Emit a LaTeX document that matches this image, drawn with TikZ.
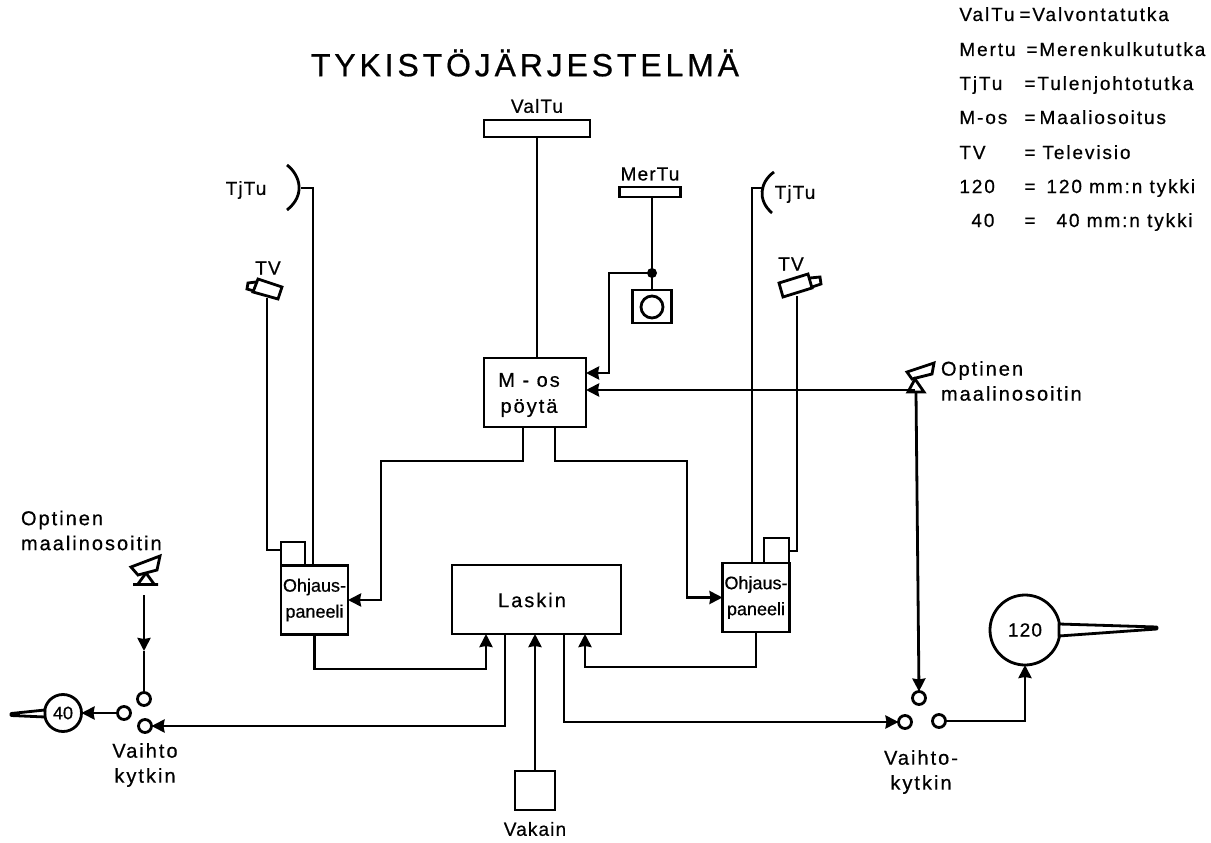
\documentclass[tikz,border=0pt]{standalone}
\usepackage{fontspec}
\setmainfont[FakeBold=0.6]{Liberation Sans}
\usetikzlibrary{arrows.meta}
\begin{document}
\begin{tikzpicture}[x=1pt,y=-1pt,line width=2.8pt,line join=miter,
  >={Stealth[length=13pt,width=13pt,inset=1pt]},
  lab/.style={font=\fontsize{19}{25}\selectfont\addfontfeature{LetterSpace=6},align=center,inner sep=0pt,outer sep=0pt},
  wide/.style={font=\fontsize{20}{25}\selectfont\addfontfeature{LetterSpace=10},inner sep=0pt,outer sep=0pt},
  leg/.style={font=\fontsize{19}{22}\selectfont\addfontfeature{LetterSpace=10},anchor=base west,inner sep=0pt},
  unit/.style={draw,fill=white,inner sep=0pt,outer sep=0pt},
  panel/.style={unit,align=center,minimum width=67pt,minimum height=69pt,font=\fontsize{18}{26}\selectfont},
  sw/.style={circle,draw,fill=white,minimum size=13pt,inner sep=0pt,outer sep=0pt},
  gun/.style={circle,draw,fill=white,inner sep=0pt,outer sep=0pt,align=center}]
\useasboundingbox (0,0) rectangle (1211,843);

\node[lab,font=\fontsize{32}{32}\selectfont\addfontfeature{LetterSpace=12}] (title) at (525,63) {TYKISTÖJÄRJESTELMÄ};

\node[leg] (l1) at (958,21) {ValTu};
\node[leg] (l1b) at (1018,21) {=Valvontatutka};
\node[leg] (l2) at (958,56) {Mertu};
\node[leg] (l2b) at (1025,56) {=Merenkulkututka};
\node[leg] (l3) at (958,90) {TjTu};
\node[leg] (l3b) at (1023,90) {=\hspace{2pt}Tulenjohtotutka};
\node[leg] (l4) at (958,124) {M-os};
\node[leg] (l4b) at (1023,124) {=\hspace{4pt}Maaliosoitus};
\node[leg] (l5) at (958,159) {TV};
\node[leg] (l5b) at (1023,159) {=\hspace{7pt}Televisio};
\node[leg] (l6) at (958,193) {120};
\node[leg] (l6b) at (1023,193) {=\hspace{11pt}120 mm:n tykki};
\node[leg] (l7) at (970,227) {40};
\node[leg] (l7b) at (1023,227) {=\hspace{21pt}40 mm:n tykki};

\node[unit,minimum width=106pt,minimum height=17pt] (valtu) at (537,128.5) {};
\node[lab] (valtulab) at (537,106) {ValTu};
\node[unit,minimum width=61pt,minimum height=10pt] (mertu) at (650,192) {};
\node[lab] (mertulab) at (650,174) {MerTu};
\node[unit,minimum width=39pt,minimum height=33pt] (console) at (652,306.5) {};
\node[circle,draw,minimum size=22pt,inner sep=0pt] (scope) at (652,307) {};
\coordinate (dot) at (652,273);
\fill (dot) circle (5);

\node[unit,minimum width=102pt,minimum height=69pt] (mos) at (535,392.5) {};
\node[wide,align=center,font=\fontsize{20}{26}\selectfont\addfontfeature{LetterSpace=10}] (moslab) at (529,395) {M - os\\pöytä};
\node[unit,minimum width=169pt,minimum height=69pt] (laskin) at (536.5,599.5) {};
\node[wide] (laskinlab) at (532,600) {Laskin};
\node[panel] (panl) at (314.5,600) {Ohjaus-\\paneeli};
\node[panel] (panr) at (756,597.5) {Ohjaus-\\paneeli};
\node[unit,minimum width=24pt,minimum height=23pt] (tvboxl) at (293,553.5) {};
\node[unit,minimum width=25pt,minimum height=25pt] (tvboxr) at (776.5,550.5) {};
\node[unit,minimum width=40pt,minimum height=39pt] (vakain) at (535,790.5) {};
\node[lab] (vakainlab) at (535,829) {Vakain};

\node[lab] (tjtul) at (246,190) {TjTu};
\node[lab] (tjtur) at (795,194) {TjTu};
\node[lab] (tvl) at (268,268) {TV};
\node[lab] (tvr) at (791,264) {TV};

\coordinate (dishl) at (301,188);
\coordinate (dishr) at (762,188);
\draw (287,165) .. controls (300,175) and (306,195) .. (287,210);
\draw (774,172) .. controls (760,182) and (757,200) .. (772,213);

\coordinate (caml) at (267,298);
\coordinate (camr) at (797,296);
\draw (258,279) -- (282,287) -- (278,299) -- (253,292) -- cycle;
\draw (256,282) -- (248,283) -- (247,289) -- (254,291);
\draw (779,283) -- (808,274) -- (812,288) -- (783,297) -- cycle;
\draw (810,278) -- (820,277) -- (821,284) -- (812,287);

\coordinate (sightr) at (915,390);
\draw (907,372) -- (934,363) -- (932,374) -- (912,379) -- cycle;
\draw[fill=white] (915,379) -- (908,392) -- (924,392) -- cycle;
\node[wide,align=left,anchor=west] (optr) at (941,381) {Optinen\\maalinosoitin};

\coordinate (sightl) at (144,595);
\draw (131,567) -- (160,556) -- (157,570) -- (138,575) -- cycle;
\draw (133,584.5) -- (158,584.5) (146,573) -- (138,584) (146,573) -- (154,584);
\node[wide,align=left,anchor=west] (optl) at (21,530.5) {Optinen\\maalinosoitin};

\node[sw] (swl1) at (144,699) {};
\node[sw] (swl2) at (124,713) {};
\node[sw] (swl3) at (145,726) {};
\node[wide,align=center] (vaihl) at (145,765) {Vaihto\\kytkin};
\node[gun,minimum size=37pt,font=\fontsize{18}{18}\selectfont] (g40) at (63,713) {40};
\draw[fill=white,line join=round] (45,710) -- (11,713.5) -- (11,715.5) -- (45,717) -- cycle;

\node[sw] (swr1) at (919,698) {};
\node[sw] (swr2) at (905,722) {};
\node[sw] (swr3) at (939,721) {};
\node[wide,align=center] (vaihr) at (921,772) {Vaihto-\\kytkin};
\node[gun,minimum size=70pt,font=\fontsize{19}{19}\selectfont\addfontfeature{LetterSpace=6}] (g120) at (1025,630) {120};
\draw[fill=white,line join=round] (1059,624) -- (1157,627) -- (1157,629) -- (1059,636) -- cycle;

\draw (valtu.south) -- (valtu.south |- mos.north);
\draw (652,197) -- (console.north);
\draw[->] (dot) -| (609,373) -- ([yshift=19.5pt]mos.east);
\draw[->] (sightr) -- (sightr -| mos.east);
\draw[->] (916,392) -- (swr1.north);
\draw[->] ([xshift=27.5pt]laskin.south) |- (swr2.west);
\draw[->] (swr3.east) -| (g120.south);

\draw[->] ([xshift=-12pt]mos.south) |- (381,461) |- (panl.east);
\draw[->] ([xshift=20pt]mos.south) |- (687,461) |- (panr.west);

\draw (dishl) -- (313,188) -- (313,565.5);
\draw (dishr) -- (752,188) -- (752,563);
\draw (caml) |- (tvboxl.west |- 0,550);
\draw (camr) |- (tvboxr.east |- 0,551);

\draw[->] (panl.south) |- (486,669) -- ([xshift=-50.5pt]laskin.south);
\draw[->] (panr.south) |- (585,667) -- ([xshift=48.5pt]laskin.south);
\draw[->] (vakain.north) -- (vakain.north |- laskin.south);
\draw[->] ([xshift=-31.5pt]laskin.south) |- (swl3.east);

\coordinate (midl) at (144,651);
\draw[->] (sightl) -- (midl);
\draw (midl) -- (swl1.north);
\draw[->] (swl2.west) -- (g40.east);
\end{tikzpicture}
\end{document}
